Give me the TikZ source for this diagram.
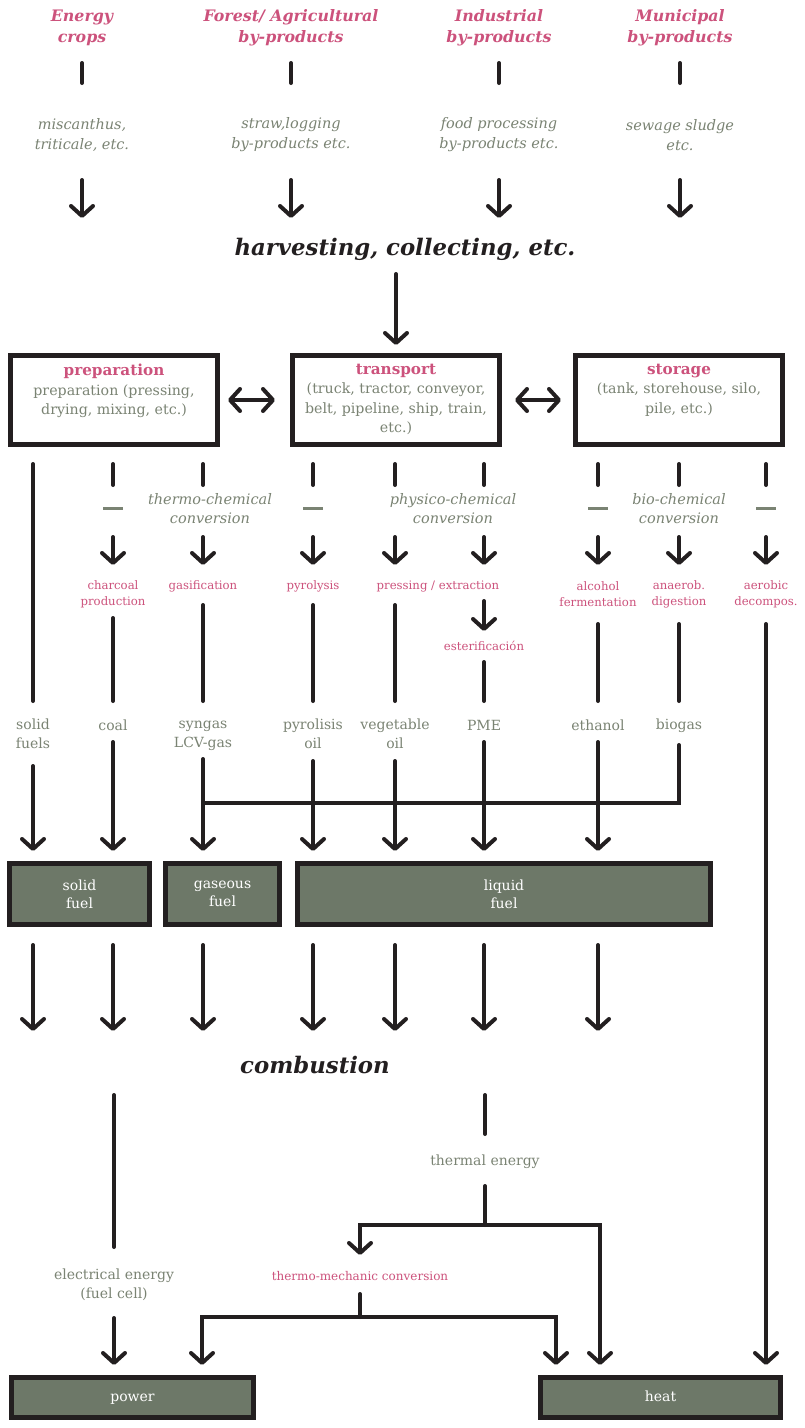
\documentclass[tikz,border=0pt]{standalone}
\usepackage{fontspec}
\setmainfont{DejaVu Serif}
\usepackage{tikz}
\usetikzlibrary{arrows.meta}
\definecolor{rose}{RGB}{204, 82, 124}
\definecolor{sage}{RGB}{122, 131, 115}
\definecolor{moss}{RGB}{109, 120, 104}
\definecolor{ink}{RGB}{35, 31, 32}

\newcommand{\stagetext}[2]{%
  \parbox[c][72pt][t]{200pt}{\centering{\color{rose}\fontsize{15.2}{19.5}\selectfont\bfseries #1}\\#2}}

\tikzset{
  wire/.style={ink, line width=4pt, line cap=round},
  wirearr/.style={wire, -{Straight Barb[length=10pt, width=22pt, round]}},
  wiredbl/.style={wire, {Straight Barb[length=10pt, width=22pt, round]}-{Straight Barb[length=10pt, width=22pt, round]}},
  source/.style={rose, align=center, font=\fontsize{15.8}{21}\selectfont\bfseries\itshape},
  example/.style={sage, align=center, font=\fontsize{14.5}{20}\selectfont\itshape},
  category/.style={sage, align=center, font=\fontsize{14.5}{19}\selectfont\itshape},
  stage/.style={draw=ink, line width=5pt, outer sep=2.5pt, inner sep=0pt, minimum width=207pt, minimum height=89pt, text=sage, font=\fontsize{14.2}{19.5}\selectfont},
  process/.style={rose, align=center, font=\fontsize{11.7}{16}\selectfont},
  product/.style={sage, align=center, font=\fontsize{14}{18.5}\selectfont},
  fuel/.style={draw=ink, fill=moss, line width=5pt, outer sep=2.5pt, inner sep=0pt, text=white, align=center, font=\fontsize{14}{18}\selectfont},
  headline/.style={ink, font=\fontsize{22.8}{26}\selectfont\bfseries\itshape},
  tick/.style={sage, line width=3pt},
}

\begin{document}
\begin{tikzpicture}[x=1pt, y=-1pt]

  \useasboundingbox (0, 0) rectangle (805, 1428);

  % feedstock
  \node[source] (src1) at (82, 28)  {Energy\\crops};
  \node[source] (src2) at (291, 28) {Forest/ Agricultural\\by-products};
  \node[source] (src3) at (499, 28) {Industrial\\by-products};
  \node[source] (src4) at (680, 28) {Municipal\\by-products};

  \node[example] (ex1) at (82, 135)  {miscanthus,\\triticale, etc.};
  \node[example] (ex2) at (291, 135) {straw,logging\\by-products etc.};
  \node[example] (ex3) at (499, 135) {food processing\\by-products etc.};
  \node[example] (ex4) at (680, 135) {sewage sludge\\etc.};

  \node[headline] (harv) at (405, 249) {harvesting, collecting, etc.};

  \foreach \i in {1, ..., 4} {
    \draw[wire, shorten <=35pt, shorten >=52pt] (src\i.center) -- (ex\i.center);
    \draw[wirearr, shorten <=45pt, shorten >=31pt] (ex\i.center) -- (ex\i.center |- harv.center);
  }

  % logistics
  \node[stage] (prep)  at (114, 400) {\stagetext{preparation}{preparation (pressing,\\drying, mixing, etc.)}};
  \node[stage] (trans) at (396, 400) {\stagetext{transport}{(truck, tractor, conveyor,\\belt, pipeline, ship, train,\\etc.)}};
  \node[stage] (stor)  at (679, 400) {\stagetext{storage}{(tank, storehouse, silo,\\pile, etc.)}};

  \draw[wirearr, shorten <=25pt, shorten >=8pt] (trans.north |- harv.center) -- (trans.north);
  \draw[wiredbl, shorten <=8pt, shorten >=15pt] (prep.east) -- (trans.west);
  \draw[wiredbl, shorten <=13pt, shorten >=12pt] (trans.east) -- (stor.west);

  % conversion
  \node[category] (thermo)  at (210, 509) {thermo-chemical\\conversion};
  \node[category] (physico) at (453, 509) {physico-chemical\\conversion};
  \node[category] (bio)     at (679, 509) {bio-chemical\\conversion};

  \node[process] (charcoal) at (113, 594) {charcoal\\production};
  \node[process] (gasif)    at (203, 586) {gasification};
  \node[process] (pyrol)    at (313, 586) {pyrolysis};
  \node[process] (press)    at (438, 586) {pressing / extraction};
  \node[process] (ester)    at (484, 646) {esterificación};
  \node[process] (alcohol)  at (598, 594) {alcohol\\fermentation};
  \node[process] (anaerob)  at (679, 594) {anaerob.\\digestion};
  \node[process] (aerobic)  at (766, 594) {aerobic\\decompos.};

  % products
  \node[product] (solids)  at (33, 734)  {solid\\fuels};
  \node[product] (coal)    at (113, 725) {coal};
  \node[product] (syngas)  at (203, 736) {syngas\\LCV-gas};
  \node[product] (pyroil)  at (313, 734) {pyrolisis\\oil};
  \node[product] (vegoil)  at (395, 734) {vegetable\\oil};
  \node[product] (pme)     at (484, 725) {PME};
  \node[product] (ethanol) at (598, 725) {ethanol};
  \node[product] (biogas)  at (679, 726) {biogas};

  \foreach \c/\b/\t/\s/\a in {charcoal/prep/charcoal/109pt/29pt, gasif/prep/gasif/101pt/21pt,
      pyrol/trans/pyrol/101pt/21pt, vegoil/trans/press/101pt/21pt, ester/trans/press/101pt/21pt,
      alcohol/stor/alcohol/109pt/29pt, anaerob/stor/anaerob/109pt/29pt, aerobic/stor/aerobic/109pt/29pt} {
    \draw[wire, shorten <=17pt, shorten >=\s] (\c |- \b.south) -- (\c |- \t.center);
    \draw[wirearr, shorten <=90pt, shorten >=\a] (\c |- \b.south) -- (\c |- \t.center);
  }

  \foreach \c in {charcoal, pyrol, alcohol, aerobic}
    \draw[tick] (\c |- thermo.center) ++(-10pt, 1pt) -- ++(20pt, 0);

  \draw[wire, shorten <=17pt, shorten >=33pt] (solids |- prep.south) -- (solids.center);
  \draw[wire, shorten <=24pt, shorten >=24pt] (charcoal.center) -- (coal.center);
  \draw[wire, shorten <=19pt, shorten >=35pt] (gasif.center) -- (syngas.center);
  \draw[wire, shorten <=19pt, shorten >=33pt] (pyrol.center) -- (pyroil.center);
  \draw[wire, shorten <=19pt, shorten >=33pt] (vegoil |- press.center) -- (vegoil.center);
  \draw[wirearr, shorten <=15pt, shorten >=15pt] (ester |- press.center) -- (ester.center);
  \draw[wire, shorten <=16pt, shorten >=24pt] (ester.center) -- (pme.center);
  \draw[wire, shorten <=30pt, shorten >=24pt] (alcohol.center) -- (ethanol.center);
  \draw[wire, shorten <=30pt, shorten >=25pt] (anaerob.center) -- (biogas.center);

  % fuels
  \node[fuel, minimum width=140pt, minimum height=61pt] (bsolid)  at (79.5, 894)  {solid\\fuel};
  \node[fuel, minimum width=114pt, minimum height=61pt] (bgas)    at (222.5, 894) {gaseous\\fuel};
  \node[fuel, minimum width=413pt, minimum height=61pt] (bliquid) at (504, 894)   {liquid\\fuel};

  \node[headline] (comb) at (315, 1065) {combustion};

  \coordinate (gasjoin) at (203, 803);
  \draw[wire, shorten <=19pt] (biogas.center) |- (gasjoin);

  \foreach \p/\b/\s in {solids/bsolid/32pt, coal/bsolid/17pt, syngas/bgas/23pt, pyroil/bliquid/27pt,
      vegoil/bliquid/27pt, pme/bliquid/17pt, ethanol/bliquid/17pt} {
    \draw[wirearr, shorten <=\s, shorten >=10pt] (\p.center) -- (\p |- \b.north);
    \draw[wirearr, shorten <=18pt, shorten >=34pt] (\p |- \b.south) -- (\p |- comb.center);
  }

  % energy
  \node[product] (elec)  at (114, 1285) {electrical energy\\(fuel cell)};
  \node[product] (therm) at (485, 1162) {thermal energy};
  \node[process, font=\fontsize{12}{16}\selectfont] (mech) at (360, 1276) {thermo-mechanic conversion};

  \node[fuel, minimum width=242pt, minimum height=40pt, text height=10pt, text depth=3pt] (power) at (132.5, 1397.5) {power};
  \node[fuel, minimum width=240pt, minimum height=40pt, text height=10pt, text depth=3pt] (heat)  at (660.5, 1397.5) {heat};

  \coordinate (tjoin)   at (485, 1225);
  \coordinate (mjoin)   at (360, 1317);
  \coordinate (powin)   at (202, 1375);
  \coordinate (heatin1) at (556, 1375);
  \coordinate (heatin2) at (600, 1375);

  \draw[wire, shorten <=30pt, shorten >=38pt] (elec |- comb.center) -- (elec.center);
  \draw[wirearr, shorten <=33pt, shorten >=10pt] (elec.center) -- (elec |- power.north);
  \draw[wire, shorten <=30pt, shorten >=28pt] (therm |- comb.center) -- (therm.center);
  \draw[wire, shorten <=24pt] (therm.center) -- (tjoin);
  \draw[wirearr, shorten >=21pt] (tjoin) -| (mech.center);
  \draw[wirearr, shorten >=10pt] (tjoin) -| (heatin2);
  \draw[wire, shorten <=18pt] (mech.center) -- (mjoin);
  \draw[wirearr, shorten >=10pt] (mjoin) -| (powin);
  \draw[wirearr, shorten >=10pt] (mjoin) -| (heatin1);
  \draw[wirearr, shorten <=30pt, shorten >=10pt] (aerobic.center) -- (aerobic |- heat.north);

\end{tikzpicture}
\end{document}
